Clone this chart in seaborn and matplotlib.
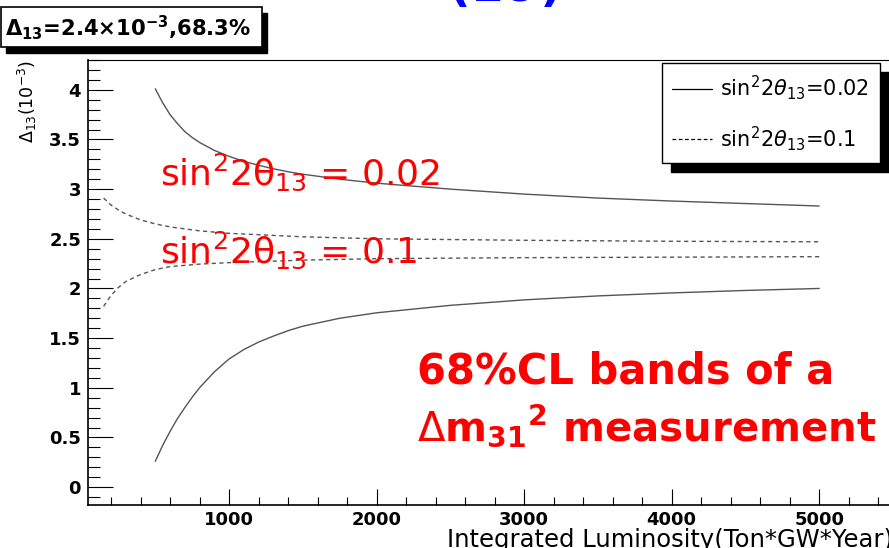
import matplotlib
matplotlib.use("Agg")
import matplotlib.pyplot as plt
from matplotlib.patches import Rectangle
from matplotlib.lines import Line2D
from matplotlib.ticker import MultipleLocator
import pandas as pd
import seaborn as sns

# 68% CL band edges of Delta_13 (10^-3) vs integrated luminosity
lum_002 = [500, 550, 600, 650, 700, 750, 800, 900, 1000, 1100, 1200, 1300, 1400, 1500,
           1750, 2000, 2500, 3000, 3500, 4000, 4500, 5000]
upper_002 = [4.01, 3.87, 3.75, 3.66, 3.58, 3.52, 3.47, 3.39, 3.33, 3.28, 3.24, 3.205, 3.175, 3.15,
             3.10, 3.06, 3.00, 2.95, 2.91, 2.88, 2.855, 2.83]
lower_002 = [0.26, 0.42, 0.56, 0.69, 0.80, 0.905, 1.00, 1.16, 1.29, 1.385, 1.46, 1.52, 1.575, 1.62,
             1.70, 1.755, 1.83, 1.885, 1.925, 1.955, 1.98, 2.00]

lum_01 = [150, 200, 250, 300, 400, 500, 600, 800, 1000, 1500, 2000, 3000, 4000, 5000]
upper_01 = [2.91, 2.84, 2.79, 2.75, 2.69, 2.65, 2.62, 2.58, 2.555, 2.52, 2.50, 2.485, 2.475, 2.47]
lower_01 = [1.82, 1.93, 2.01, 2.07, 2.14, 2.19, 2.22, 2.245, 2.26, 2.285, 2.30, 2.31, 2.315, 2.32]

x_ticks = [1000, 2000, 3000, 4000, 5000]
y_ticks = [0, 0.5, 1, 1.5, 2, 2.5, 3, 3.5, 4]
series_names = ["0.02", "0.1"]
legend_labels = [r"sin$^2$2$\theta_{13}$=0.02", r"sin$^2$2$\theta_{13}$=0.1"]

rows = []
for name, lum, up, lo in [(series_names[0], lum_002, upper_002, lower_002),
                          (series_names[1], lum_01, upper_01, lower_01)]:
    for edge, vals in (("upper", up), ("lower", lo)):
        for x, y in zip(lum, vals):
            rows.append({"lum": x, "delta": y, "s22t": name, "edge": edge})
df = pd.DataFrame(rows)

sns.set_style("ticks")
plt.rcParams["font.family"] = ["DejaVu Sans"]
plt.rcParams["text.color"] = "black"
plt.rcParams["xtick.color"] = "black"
plt.rcParams["ytick.color"] = "black"
plt.rcParams["axes.edgecolor"] = "black"

W, H = 889, 548
fig = plt.figure(figsize=(W / 100, H / 100), dpi=100)
ax = fig.add_axes([88 / W, 43 / H, 805 / W, 445 / H])

sns.lineplot(data=df, x="lum", y="delta", style="s22t", units="edge", estimator=None,
             dashes={"0.02": "", "0.1": (3, 2.5)}, color="#555555", lw=1.0,
             sort=False, legend=False, ax=ax)

ax.set_xlim(44, 5500)
ax.set_ylim(-0.18, 4.30)
ax.set_xticks(x_ticks)
ax.set_yticks(y_ticks)
ax.set_xticklabels([str(v) for v in x_ticks])
ax.set_yticklabels([f"{v:g}" for v in y_ticks])
ax.xaxis.set_minor_locator(MultipleLocator(200))
ax.yaxis.set_minor_locator(MultipleLocator(0.1))
ax.tick_params(axis="x", which="major", direction="in", length=11.5, width=0.8, pad=4,
               labelsize=13, labelcolor="black")
ax.tick_params(axis="x", which="minor", direction="in", length=5.5, width=0.8)
ax.tick_params(axis="y", which="major", direction="in", length=18, width=0.8, pad=5,
               labelsize=13, labelcolor="black")
ax.tick_params(axis="y", which="minor", direction="in", length=8.5, width=0.8)
for lab in ax.get_xticklabels() + ax.get_yticklabels():
    lab.set_fontweight("bold")
for side in ("left", "bottom"):
    ax.spines[side].set_linewidth(1.2)
ax.spines["top"].set_linewidth(0.8)
ax.spines["right"].set_linewidth(0.8)
ax.set_xlabel("")
ax.set_ylabel("")

# axis titles, ROOT style
fig.text(893 / W, 1 - 540 / H, "Integrated Luminosity(Ton*GW*Year)", ha="right", va="center",
         fontsize=17.5)
fig.text(27 / W, 1 - 60 / H, r"$\Delta_{13}$(10$^{-3}$)", rotation=90, ha="center", va="top",
         fontsize=12.5)

# legend with a solid drop shadow
handles = [Line2D([], [], color="black", lw=0.9),
           Line2D([], [], color="black", lw=0.9, dashes=(3, 2))]
leg = ax.legend(handles, legend_labels, loc="upper left",
                bbox_to_anchor=(662 / W, 1 - 63 / H), bbox_transform=fig.transFigure,
                borderaxespad=0, frameon=True, fancybox=False, framealpha=1,
                edgecolor="black", fontsize=15, handlelength=1.9, handletextpad=0.4,
                labelspacing=1.05, borderpad=0.5,
                shadow={"ox": 6.5, "oy": -6.5, "facecolor": "black",
                        "edgecolor": "black", "alpha": 1})
leg.get_frame().set_linewidth(1.0)

# statistics box in the top-left corner
fig.patches.append(Rectangle((6 / W, 1 - 53 / H), 261 / W, 40 / H, transform=fig.transFigure,
                             facecolor="black", edgecolor="black"))
fig.patches.append(Rectangle((0.5 / W, 1 - 47 / H), 261 / W, 40 / H, transform=fig.transFigure,
                             facecolor="white", edgecolor="black", lw=1.2))
fig.text(5 / W, 1 - 28 / H, r"$\mathbf{\Delta_{13}}$=2.4×10$^{\mathbf{-3}}$,68.3%",
         ha="left", va="center", fontsize=15.2, fontweight="bold")

# slide title running off the top edge
fig.text(505 / W, 1 - 11 / H, "(1σ)", ha="center", va="bottom", fontsize=34,
         fontweight="bold", color="blue")

# red annotations
red = "#ff0000"
ax.text(532, 3.04, r"sin$^2$2θ$_{13}$ = 0.02", color=red, fontsize=26, va="baseline")
ax.text(532, 2.256, r"sin$^2$2θ$_{13}$ = 0.1", color=red, fontsize=26, va="baseline")
ax.text(2271, 1.047, "68%CL bands of a", color=red, fontsize=30, fontweight="bold",
        va="baseline")
ax.text(2271, 0.47, r"$\Delta$m$_{\mathbf{31}}{}^{\mathbf{2}}$ measurement", color=red,
        fontsize=29, fontweight="bold", va="baseline")

fig.savefig("out.png", dpi=100)
